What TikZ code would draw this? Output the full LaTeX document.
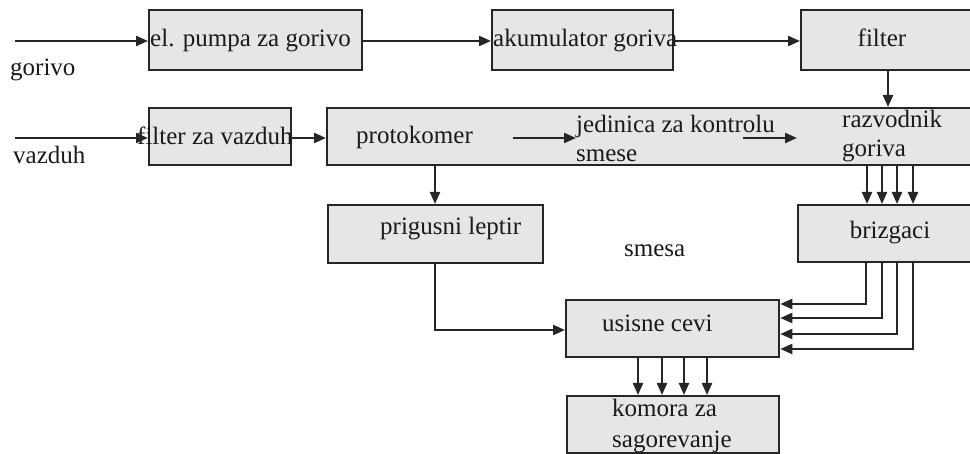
\documentclass[tikz,border=0pt]{standalone}
\usepackage{fontspec}
\setmainfont{Liberation Serif}
\usetikzlibrary{arrows.meta}
\definecolor{lc}{HTML}{262626}
\definecolor{bf}{HTML}{E6E6E6}
\definecolor{tc}{HTML}{1A1A1A}
\tikzset{
  box/.style={draw=lc, fill=bf, line width=2.3pt, inner sep=0pt, anchor=north west},
  arr/.style={draw=lc, line width=2.2pt, -{Triangle[length=12pt,width=10pt]}},
  lbl/.style={inner sep=0pt, anchor=base west, font=\fontsize{25}{30}\selectfont, text=tc}
}
\begin{document}
\begin{tikzpicture}[x=1pt,y=-1pt]
\useasboundingbox (0,0) rectangle (970,454);
\clip (0,0) rectangle (970,454);
% boxes
\node[box, minimum width=213pt, minimum height=60pt] (pump) at (148,9) {};
\node[box, minimum width=181pt, minimum height=60pt] (akum) at (491,9) {};
\node[box, minimum width=190pt, minimum height=60pt] (filt) at (800,9) {};
\node[box, minimum width=142pt, minimum height=57pt] (fv) at (148,107) {};
\node[box, minimum width=664pt, minimum height=57pt] (big) at (326,107) {};
\node[box, minimum width=215pt, minimum height=58pt] (prig) at (327,204) {};
\node[box, minimum width=193pt, minimum height=57pt] (briz) at (797,204) {};
\node[box, minimum width=213pt, minimum height=57pt] (usis) at (565,299) {};
\node[box, minimum width=212pt, minimum height=57pt] (kom) at (566,395) {};
% texts
\node[lbl] (tpump) at (150,47) {el. pumpa za gorivo};
\node[lbl] (takum) at (493,47) {akumulator goriva};
\node[lbl, anchor=base] (tfilt) at (882,47) {filter};
\node[lbl] (tfv) at (137,145) {filter za vazduh};
\node[lbl] (tproto) at (356,144) {protokomer};
\node[lbl] (tjed) at (576,133) {jedinica za kontrolu};
\node[lbl] (tsmese) at (576,162) {smese};
\node[lbl] (traz) at (842,128) {razvodnik};
\node[lbl] (tgor2) at (842,157) {goriva};
\node[lbl] (tprig) at (380,235) {prigusni leptir};
\node[lbl, anchor=base] (tbriz) at (890,239) {brizgaci};
\node[lbl] (tsmesa) at (624,257) {smesa};
\node[lbl] (tusis) at (602,332) {usisne cevi};
\node[lbl] (tkom1) at (612,417) {komora za};
\node[lbl] (tkom2) at (612,448) {sagorevanje};
\node[lbl] (tgor) at (10,76) {gorivo};
\node[lbl] (tvaz) at (13,164) {vazduh};
% free ends
\coordinate (gin) at (15,41);
\coordinate (vin) at (15,138);
\coordinate (p1) at (513,138);
\coordinate (p2) at (743,138);
% connectors
\draw[arr] (gin) -- (pump.west |- gin);
\draw[arr] (pump.east |- gin) -- (akum.west |- gin);
\draw[arr] (akum.east |- gin) -- (filt.west |- gin);
\draw[arr] (filt.south -| 888,0) -- (big.north -| 888,0);
\draw[arr] (vin) -- (fv.west |- vin);
\draw[arr] (fv.east |- vin) -- (big.west |- vin);
\draw[arr] (p1) -- (tjed.west |- p1);
\draw[arr] (p2) -- (briz.west |- p2);
\draw[arr] (big.south -| 435,0) -- (prig.north -| 435,0);
\foreach \x in {867,882,897,913}
  \draw[arr] (big.south -| \x,0) -- (briz.north -| \x,0);
\draw[arr] (prig.south -| 435,0) |- (usis.west |- 0,330);
\foreach \x/\y in {866/304,882/318,897/334,913/349}
  \draw[arr] (briz.south -| \x,0) |- (usis.east |- 0,\y);
\foreach \x in {638,662,684,707}
  \draw[arr] (usis.south -| \x,0) -- (kom.north -| \x,0);
\end{tikzpicture}
\end{document}
